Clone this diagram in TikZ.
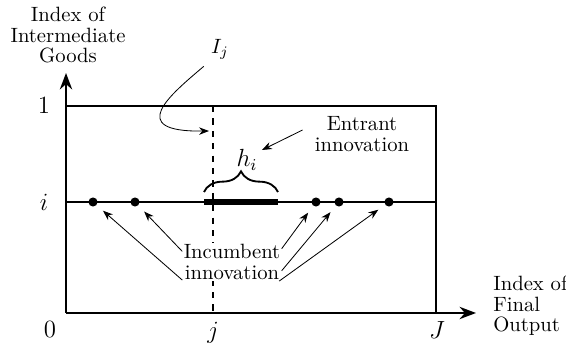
\documentclass[tikz,border=0pt]{standalone}
\usepackage{amsmath,amssymb}
\usetikzlibrary{arrows.meta,positioning,calc,decorations.pathreplacing}

\begin{document}
\begin{tikzpicture}[x=0.017cm,y=-0.017cm,>=Stealth,
  lbl/.style={align=center,font=\fontsize{10}{10}\selectfont},
  dot/.style={circle,fill,inner sep=0pt,minimum size=4.4pt},
  tick/.style={font=\large}]
\useasboundingbox (0,0) rectangle (566,351);
\coordinate (o)    at (66,313);
\coordinate (ytop) at (66,73);
\coordinate (xend) at (476,313);
\node (ylab) [lbl] at (68,35) {Index of\\Intermediate\\Goods};
\node (xlab) [lbl,align=left,anchor=west] at (486,306) {Index of\\Final\\Output};
% axes and box
\draw[->,line width=1.1pt] (o) -- (ytop);
\draw[->,line width=1.1pt] (o) -- (xend);
\draw[semithick] (66,106) -- (436,106) -- (436,313);
\draw[semithick] (66,202) -- (436,202);
\draw[dashed,line width=0.9pt] (213,106) -- (213,313);
% tick labels
\node (one)  [tick] at (44,106) {$1$};
\node (idx)  [tick] at (44,202) {$i$};
\node (zero) [tick] at (50,330) {$0$};
\node (jj)   [tick] at (213,333) {$j$};
\node (JJ)   [tick] at (437,330) {$J$};
% incumbent dots and entrant interval
\node (d1) [dot] at (93,202) {};
\node (d2) [dot] at (135,202) {};
\node (d3) [dot] at (316,202) {};
\node (d4) [dot] at (339,202) {};
\node (d5) [dot] at (389,202) {};
\draw[line width=2.6pt] (204,202) -- (278,202);
\draw[decorate,decoration={brace,amplitude=10pt},line width=0.9pt] (204,192) -- (278,192);
\node (hi) [tick] at (247,160) {$h_i$};
\node (ent) [lbl] at (362,134) {Entrant\\innovation};
\draw[->] ($(ent.west)+(-5,-4)$) -- ($(hi)+(15,-10)$);
\node (ij) at (220,49) {$I_j$};
\coordinate (ijtip) at (209,131);
\draw[->] (ij.south west) .. controls (170,95) and (125,132) .. (ijtip);
% incumbent innovation
\node (inc) [lbl,fill=white,inner sep=0.5pt] at (232,262) {Incumbent\\innovation};
\draw[->,shorten >=4pt] (inc.200) -- (d1);
\draw[->,shorten >=4pt] (inc.168) -- (d2);
\draw[->,shorten >=4pt] (inc.15) -- (d3);
\draw[->,shorten >=4pt] (inc.-10) -- (d4);
\draw[->,shorten >=4pt] (inc.-22) -- (d5);
\end{tikzpicture}
\end{document}
